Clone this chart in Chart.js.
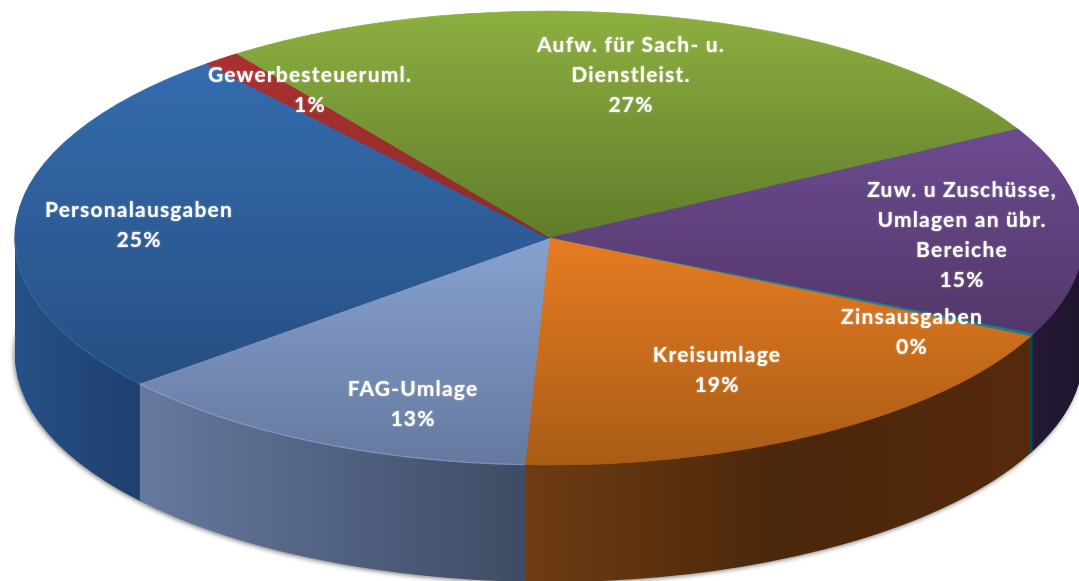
<!DOCTYPE html>
<html><head><meta charset="utf-8">
<style>html,body{margin:0;padding:0;background:#fff}canvas{display:block;filter:blur(0.5px)}</style>
<script src="https://cdn.jsdelivr.net/npm/chart.js@4"></script>
</head><body>
<canvas id="c" width="1079" height="581"></canvas>
<script>
// ----- data -----
const categories = ["Aufw. für Sach- u. Dienstleist.","Zuw. u Zuschüsse, Umlagen an übr. Bereiche","Zinsausgaben","Kreisumlage","FAG-Umlage","Personalausgaben","Gewerbesteueruml."];
const shares = [27.0,14.9,0.2,18.6,13.2,25.0,1.1];
const labelLines = [["Aufw. für Sach- u.","Dienstleist."],["Zuw. u Zuschüsse,","Umlagen an übr.","Bereiche"],["Zinsausgaben"],["Kreisumlage"],["FAG-Umlage"],["Personalausgaben"],["Gewerbesteueruml."]];
const labelPercents = ["27%","15%","0%","19%","13%","25%","1%"];
// ----- styles -----
const topColors = [["#8CAF40","#607C2A"],["#6C4B90","#523769"],["#1F94A8","#17798A"],["#E67C22","#A95C16"],["#87A1CF","#65799F"],["#346CAE","#264F83"],["#AB3030","#8E2B2B"]];
const sideColors = [["#5A7526","#4A601E"],["#241A36","#1E152C"],["#0E4C57","#0B3D46"],["#6F3C12","#4B270B","#55290C"],["#66799F","#3E4B64"],["#265086","#1F3F6E"],["#6B2020","#5A1A1A"]];
const rimColors = [null,null,null,null,"rgba(170,195,240,.4)","rgba(70,125,195,.4)",null];
// ----- layout -----
const view = {cx:549, cy:238, rx:534, ry:227, depth:117};
const labelAnchors = [[631,45],[962,190],[912,317],[717,355],[413,389],[139,210],[310,75]];
const lineGap = 30;

function extents(a){
  const pts=[[0,0],[Math.cos(a.startAngle),Math.sin(a.startAngle)],[Math.cos(a.endAngle),Math.sin(a.endAngle)]];
  for(let k=-8;k<=8;k++){const t=k*Math.PI/2; if(t>a.startAngle&&t<a.endAngle)pts.push([Math.cos(t),Math.sin(t)]);}
  return pts;
}
function topGradient(ctx,a,i){
  const p=extents(a), ys=p.map(q=>q[1]);
  const g=ctx.createLinearGradient(0,a.y+Math.min(...ys)*a.outerRadius,0,a.y+Math.max(...ys)*a.outerRadius);
  g.addColorStop(0,topColors[i][0]); g.addColorStop(1,topColors[i][1]);
  return g;
}
function sideGradient(ctx,a,i){
  let lo=Infinity,hi=-Infinity;
  for(let n=0;n<=60;n++){const t=a.startAngle+(a.endAngle-a.startAngle)*n/60;
    if(Math.sin(t)>=0){const x=Math.cos(t);lo=Math.min(lo,x);hi=Math.max(hi,x);}}
  if(lo===Infinity){lo=-1;hi=1;}
  const g=ctx.createLinearGradient(a.x+lo*a.outerRadius,0,a.x+hi*a.outerRadius,0);
  const c=sideColors[i]; c.forEach((col,k)=>g.addColorStop(k/(c.length-1),col));
  return g;
}
function enterView(ctx,a,dy){
  const R=a.outerRadius;
  ctx.translate(view.cx,view.cy+dy);
  ctx.scale(view.rx/R,view.ry/R);
  ctx.translate(-a.x,-a.y);
}
const pie3d = {
  id:'pie3d',
  beforeDatasetsDraw(chart){
    const ctx=chart.ctx, arcs=chart.getDatasetMeta(0).data;
    arcs.forEach((a,i)=>{
      a.$top=Object.assign({},a.options,{backgroundColor:topGradient(ctx,a,i),borderColor:topGradient(ctx,a,i),borderWidth:0.8});
      a.$side=Object.assign({},a.options,{backgroundColor:sideGradient(ctx,a,i),borderWidth:0});
    });
    ctx.save();
    ctx.shadowColor='rgba(0,0,0,.55)';ctx.shadowBlur=5;ctx.shadowOffsetX=-1;ctx.shadowOffsetY=1;
    enterView(ctx,arcs[0],view.depth);
    arcs.forEach(a=>{a.options=a.$side;a.draw(ctx);});
    ctx.restore();
    for(let d=view.depth-1;d>=1;d--){
      ctx.save();
      enterView(ctx,arcs[0],d);
      arcs.forEach(a=>{a.options=a.$side;a.draw(ctx);});
      ctx.restore();
    }
    ctx.save();
    enterView(ctx,arcs[0],0);
    arcs.forEach(a=>{a.options=a.$top;a.draw(ctx);});
    ctx.restore();
    arcs.forEach((a,i)=>{
      if(!rimColors[i])return;
      ctx.save();ctx.beginPath();
      ctx.ellipse(view.cx,view.cy,view.rx,view.ry,0,Math.max(a.startAngle,0),Math.min(a.endAngle,Math.PI));
      ctx.strokeStyle=rimColors[i];ctx.lineWidth=1.2;ctx.stroke();ctx.restore();
    });
    ctx.save();
    ctx.font='bold 21px Lato';ctx.letterSpacing='1.2px';ctx.textAlign='center';ctx.textBaseline='middle';
    ctx.fillStyle='#fff';ctx.shadowColor='rgba(255,255,255,.6)';ctx.shadowBlur=2;
    labelLines.forEach((ls,i)=>{
      [...ls,labelPercents[i]].forEach((t,k)=>ctx.fillText(t,labelAnchors[i][0],labelAnchors[i][1]+k*lineGap));
    });
    ctx.restore();
    return false;
  }
};
new Chart(document.getElementById('c'),{
  type:'pie',
  data:{labels:categories,datasets:[{data:shares,borderWidth:0,backgroundColor:topColors.map(c=>c[0])}]},
  options:{responsive:false,animation:false,rotation:-35.9,layout:{padding:0},
    plugins:{legend:{display:false},tooltip:{enabled:false}}},
  plugins:[pie3d]
});
</script>
</body></html>
